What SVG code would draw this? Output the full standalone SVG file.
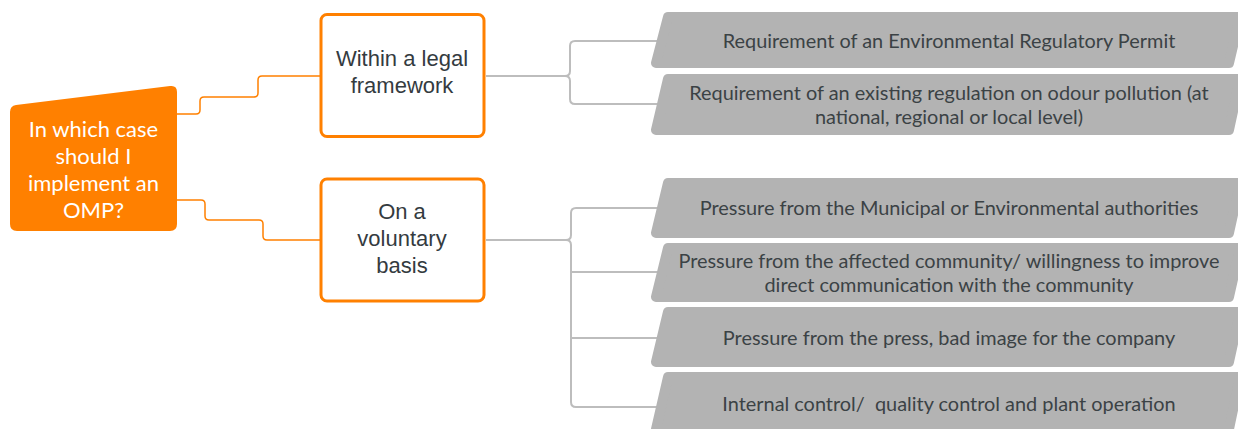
<svg xmlns="http://www.w3.org/2000/svg" width="1238" height="429" viewBox="0 0 1238 429">
  <style>
    .bg { fill: #ffffff; }
    .root { fill: #ff8000; }
    .root-text { font-family: Lato, "Liberation Sans", sans-serif; font-size: 22px; fill: #ffffff; text-anchor: middle; }
    .branch { fill: #ffffff; stroke: #ff8000; stroke-width: 3; }
    .branch-text { font-family: "Liberation Sans", Arial, sans-serif; font-size: 22px; fill: #343b3f; text-anchor: middle; }
    .leaf { fill: #b3b3b3; stroke: #b3b3b3; stroke-width: 10; stroke-linejoin: round; }
    .leaf-text { font-family: Lato, "Liberation Sans", sans-serif; font-size: 19.9px; fill: #3b4245; text-anchor: middle; white-space: pre; }
    .link-main { fill: none; stroke: #ff8000; stroke-width: 1.5; }
    .link-leaf { fill: none; stroke: #bdbdbd; stroke-width: 2; }
  </style>

  <rect class="bg" x="0" y="0" width="1238" height="429"/>

  <!-- connectors -->
  <g id="connectors">
    <path class="link-main" d="M177,114 H196 Q200,114 200,110 V101 Q200,97 204,97 H254 Q258,97 258,93 V80 Q258,76 262,76 H320"/>
    <path class="link-main" d="M177,200 H201 Q205,200 205,204 V216 Q205,220 209,220 H259 Q263,220 263,224 V236 Q263,240 267,240 H320"/>

    <path class="link-leaf" d="M486,76 H565 Q570,76 570,71 V46 Q570,41 575,41 H665"/>
    <path class="link-leaf" d="M565,76 Q570,76 570,81 V99 Q570,104 575,104 H665"/>

    <path class="link-leaf" d="M486,240 H566 Q571,240 571,235 V213 Q571,208 576,208 H665"/>
    <path class="link-leaf" d="M566,240 Q571,240 571,245 V402 Q571,407 576,407 H665"/>
    <path class="link-leaf" d="M571,272 H665"/>
    <path class="link-leaf" d="M571,338 H665"/>
  </g>

  <!-- central question -->
  <g id="root">
    <path class="root" d="M10,112 Q10,106 16,105 L170,86 Q177,85 177,92 V224 Q177,231 170,231 H17 Q10,231 10,224 Z"/>
    <text class="root-text" x="93.5" y="137">In which case</text>
    <text class="root-text" x="93.5" y="164">should I</text>
    <text class="root-text" x="93.5" y="191">implement an</text>
    <text class="root-text" x="93.5" y="218">OMP?</text>
  </g>

  <!-- first-level branches -->
  <g id="legal">
    <rect class="branch" x="321" y="14.5" width="163" height="122" rx="6"/>
    <text class="branch-text" x="402" y="66">Within a legal</text>
    <text class="branch-text" x="402" y="93">framework</text>
  </g>
  <g id="voluntary">
    <rect class="branch" x="321" y="179" width="163" height="122" rx="6"/>
    <text class="branch-text" x="402" y="219">On a</text>
    <text class="branch-text" x="402" y="246">voluntary</text>
    <text class="branch-text" x="402" y="273">basis</text>
  </g>

  <!-- leaf reasons -->
  <g id="permit">
    <polygon class="leaf" points="668,17 1240,17 1229,63 656,63"/>
    <text class="leaf-text" x="949" y="48">Requirement of an Environmental Regulatory Permit</text>
  </g>
  <g id="regulation">
    <polygon class="leaf" points="668,79 1240,79 1229,130 656,130"/>
    <text class="leaf-text" x="949" y="99.5">Requirement of an existing regulation on odour pollution (at</text>
    <text class="leaf-text" x="949" y="124">national, regional or local level)</text>
  </g>
  <g id="authorities">
    <polygon class="leaf" points="668,183 1240,183 1229,233 656,233"/>
    <text class="leaf-text" x="949" y="215">Pressure from the Municipal or Environmental authorities</text>
  </g>
  <g id="community">
    <polygon class="leaf" points="668,248 1240,248 1229,297 656,297"/>
    <text class="leaf-text" x="949" y="268">Pressure from the affected community/ willingness to improve</text>
    <text class="leaf-text" x="949" y="292">direct communication with the community</text>
  </g>
  <g id="press">
    <polygon class="leaf" points="668,312 1240,312 1229,362 656,362"/>
    <text class="leaf-text" x="949" y="345">Pressure from the press, bad image for the company</text>
  </g>
  <g id="internal">
    <polygon class="leaf" points="668,377 1240,377 1229,429 656,429"/>
    <text class="leaf-text" x="949" y="411">Internal control/  quality control and plant operation</text>
  </g>
</svg>
